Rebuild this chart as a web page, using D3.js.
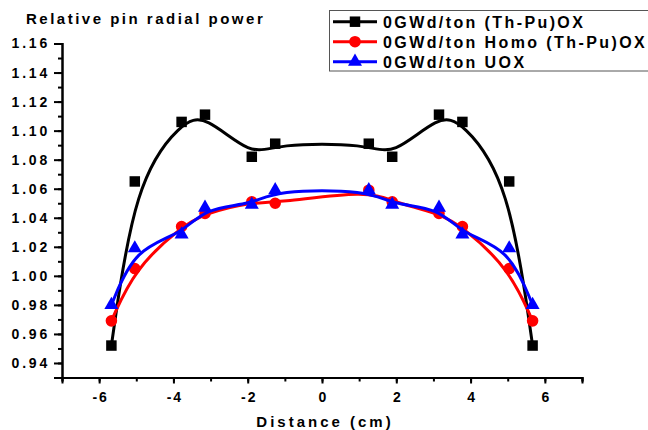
<!DOCTYPE html>
<html>
<head>
<meta charset="utf-8">
<script src="https://cdn.jsdelivr.net/npm/d3@7"></script>
<style>
  body { margin: 0; background: #fff; }
  svg { display: block; }
  text { font-family: "Liberation Sans", Arial, sans-serif; font-weight: bold; fill: #000; }
</style>
</head>
<body>
<svg id="chart" width="648" height="430"></svg>
<script>
// ---- data ----
const positions = [-5.67, -5.04, -3.78, -3.15, -1.89, -1.26, 1.26, 1.89, 3.15, 3.78, 5.04, 5.67];
const thPuOX     = [0.952, 1.065, 1.106, 1.111, 1.082, 1.091, 1.091, 1.082, 1.111, 1.106, 1.065, 0.952];
const homoThPuOX = [0.969, 1.005, 1.034, 1.043, 1.051, 1.050, 1.059, 1.051, 1.043, 1.034, 1.005, 0.969];
const uox        = [0.980, 1.019, 1.0285, 1.047, 1.049, 1.059, 1.059, 1.049, 1.047, 1.0285, 1.019, 0.980];
const seriesNames = ["0GWd/ton (Th-Pu)OX", "0GWd/ton Homo (Th-Pu)OX", "0GWd/ton UOX"];
const xTicks = [-6, -4, -2, 0, 2, 4, 6];
const yTicks = [0.94, 0.96, 0.98, 1.00, 1.02, 1.04, 1.06, 1.08, 1.10, 1.12, 1.14, 1.16];
const yTitle = "Relative pin radial power";
const xTitle = "Distance (cm)";

const series = [
  { name: seriesNames[0], values: thPuOX, color: "#000000", symbol: d3.symbolSquare, size: 110 },
  { name: seriesNames[1], values: homoThPuOX, color: "#ff0000", symbol: d3.symbolCircle, size: 105 },
  { name: seriesNames[2], values: uox, color: "#0000ff", symbol: d3.symbolTriangle, size: 85 }
];

const svg = d3.select("#chart");
const x = d3.scaleLinear().domain([-7, 7]).range([62, 582]);
const y = d3.scaleLinear().domain([0.93, 1.16]).range([377.5, 43.5]);
const noLabel = () => "";

// ---- axes ----
const axisY = x(-7), axisX = y(0.93);
const gyMinor = svg.append("g").attr("transform", `translate(${axisY},0)`)
  .call(d3.axisLeft(y).tickValues(d3.range(0.93, 1.1651, 0.01)).tickSize(4).tickFormat(noLabel));
const gyMajor = svg.append("g").attr("transform", `translate(${axisY},0)`)
  .call(d3.axisLeft(y).tickValues(yTicks).tickSize(8).tickPadding(4).tickFormat(d3.format(".2f")));
[gyMinor, gyMajor].forEach(g => {
  g.selectAll("path.domain").attr("stroke", "#000").attr("stroke-width", 2);
  g.selectAll(".tick line").attr("stroke", "#000").attr("stroke-width", 2);
});
gyMajor.selectAll(".tick text").style("font-size", "14px").style("letter-spacing", "2.8px").attr("fill", "#000");

const gxMinor = svg.append("g").attr("transform", `translate(0,${axisX})`)
  .call(d3.axisBottom(x).tickValues(d3.range(-7, 7.01, 1)).tickSize(4).tickFormat(noLabel));
const gxMajor = svg.append("g").attr("transform", `translate(0,${axisX})`)
  .call(d3.axisBottom(x).tickValues(xTicks).tickSize(6).tickPadding(9).tickFormat(d => d < 0 ? "-" + Math.abs(d) : String(d)));
[gxMinor, gxMajor].forEach(g => {
  g.selectAll("path.domain").attr("stroke", "#000").attr("stroke-width", 2);
  g.selectAll(".tick line").attr("stroke", "#000").attr("stroke-width", 2);
});
gxMajor.selectAll(".tick text").style("font-size", "14px").style("letter-spacing", "2px").attr("dx", "1px").attr("fill", "#000");

svg.append("text").attr("x", 26).attr("y", 24).style("font-size", "15px").style("letter-spacing", "2.5px").text(yTitle);
svg.append("text").attr("x", 325).attr("y", 427).attr("text-anchor", "middle").style("font-size", "15px").style("letter-spacing", "3px").text(xTitle);

// ---- series ----
const line = d3.line().x(d => x(d[0])).y(d => y(d[1])).curve(d3.curveBasis);
series.forEach(s => {
  const pts = positions.map((p, i) => [p, s.values[i]]);
  svg.append("path").datum(pts).attr("d", line).attr("fill", "none").attr("stroke", s.color).attr("stroke-width", 3);
  svg.append("g").selectAll("path").data(pts).join("path")
    .attr("d", d3.symbol(s.symbol, s.size))
    .attr("transform", d => `translate(${x(d[0])},${y(d[1])})`)
    .attr("fill", s.color);
});

// ---- legend ----
const lg = svg.append("g");
lg.append("rect").attr("x", 329.5).attr("y", 10.5).attr("width", 330).attr("height", 60.5)
  .attr("fill", "#fff").attr("stroke", "#555").attr("stroke-width", 1);
series.forEach((s, i) => {
  const yy = 21.7 + i * 20;
  lg.append("line").attr("x1", 333).attr("x2", 377).attr("y1", yy).attr("y2", yy).attr("stroke", s.color).attr("stroke-width", 3);
  lg.append("path").attr("d", d3.symbol(s.symbol, s.size)).attr("transform", `translate(355,${yy})`).attr("fill", s.color);
  lg.append("text").attr("x", 383).attr("y", yy + 6).style("font-size", "16px").style("letter-spacing", "2.4px").text(s.name);
});
</script>
</body>
</html>
